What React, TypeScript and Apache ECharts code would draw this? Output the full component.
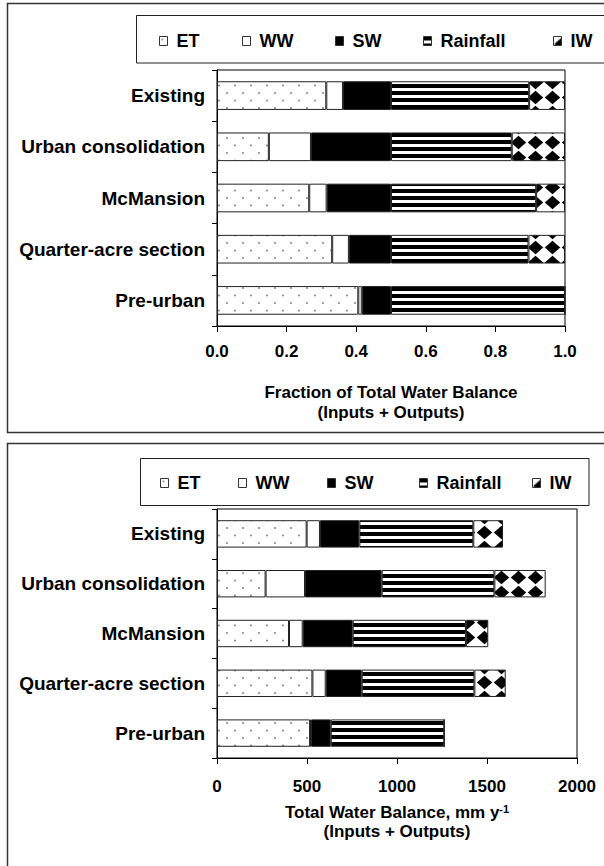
import React, { useEffect, useRef } from "react";
import * as echarts from "echarts";

const categories = ["Existing", "Urban consolidation", "McMansion", "Quarter-acre section", "Pre-urban"];
const seriesNames = ["ET", "WW", "SW", "Rainfall", "IW"];

// Fraction of total water balance (segment widths)
const fracET = [0.314, 0.149, 0.265, 0.331, 0.406];
const fracWW = [0.048, 0.121, 0.05, 0.048, 0.01];
const fracSW = [0.138, 0.23, 0.185, 0.121, 0.084];
const fracRain = [0.397, 0.347, 0.417, 0.395, 0.5];
const fracIW = [0.103, 0.153, 0.083, 0.105, 0];

// Total water balance, mm/y (segment widths)
const mmET = [498, 270, 400, 530, 517];
const mmWW = [74, 219, 76, 74, 5];
const mmSW = [219, 426, 278, 200, 110];
const mmRain = [633, 626, 629, 626, 631];
const mmIW = [165, 285, 124, 174, 0];

const fracTicks = { min: 0, max: 1, interval: 0.2 };
const mmTicks = { min: 0, max: 2000, interval: 500 };

const FONT = "'Liberation Sans', Arial, sans-serif";

function makePattern(w: number, h: number, draw: (ctx: CanvasRenderingContext2D) => void) {
  const c = document.createElement("canvas");
  c.width = w;
  c.height = h;
  const ctx = c.getContext("2d")!;
  draw(ctx);
  return { image: c.toDataURL(), repeat: "repeat", imageWidth: w, imageHeight: h } as any;
}

export default function App() {
  const ref = useRef<HTMLDivElement>(null);
  useEffect(() => {
    document.body.style.margin = "0";
    if (!ref.current) return;
    const chart = echarts.init(ref.current, undefined, { renderer: "svg" });

    const etPat = makePattern(16, 15, (ctx) => {
      ctx.fillStyle = "#fff";
      ctx.fillRect(0, 0, 16, 15);
      ctx.fillStyle = "#808080";
      ctx.beginPath();
      ctx.arc(3, 3, 1, 0, Math.PI * 2);
      ctx.fill();
      ctx.beginPath();
      ctx.arc(11, 10.5, 1, 0, Math.PI * 2);
      ctx.fill();
    });
    const rainPat = makePattern(7, 7, (ctx) => {
      ctx.fillStyle = "#000";
      ctx.fillRect(0, 0, 7, 7);
      ctx.fillStyle = "#fff";
      ctx.fillRect(0, 4, 7, 3);
    });
    const iwPat = makePattern(17, 15, (ctx) => {
      ctx.fillStyle = "#fff";
      ctx.fillRect(0, 0, 17, 15);
      ctx.fillStyle = "#000";
      ctx.beginPath();
      ctx.moveTo(8.5, 0.8);
      ctx.lineTo(16.2, 7.5);
      ctx.lineTo(8.5, 14.2);
      ctx.lineTo(0.8, 7.5);
      ctx.closePath();
      ctx.fill();
    });

    const colors: any[] = [etPat, "#ffffff", "#000000", rainPat, iwPat];
    const fracData = [fracET, fracWW, fracSW, fracRain, fracIW];
    const mmData = [mmET, mmWW, mmSW, mmRain, mmIW];

    const series: any[] = [];
    seriesNames.forEach((n, i) => {
      series.push({
        name: n,
        type: "bar",
        stack: "top",
        xAxisIndex: 0,
        yAxisIndex: 0,
        barWidth: "56%",
        data: fracData[i],
        itemStyle: { color: colors[i], borderColor: "#222", borderWidth: 1 },
      });
    });
    seriesNames.forEach((n, i) => {
      series.push({
        name: n,
        type: "bar",
        stack: "bottom",
        xAxisIndex: 1,
        yAxisIndex: 1,
        barWidth: "55%",
        data: mmData[i],
        itemStyle: { color: colors[i], borderColor: "#222", borderWidth: 1 },
      });
    });

    const topLegendX = [159, 242, 335, 423, 553];
    const botLegendX = [160, 238, 327, 419, 532];
    const legends: any[] = [];
    const mkLegend = (name: string, x: number, y: number) => ({
      data: [name],
      left: x,
      top: y - 9,
      padding: 0,
      itemWidth: 8,
      itemHeight: 9,
      selectedMode: false,
      icon: "rect",
      itemStyle: { borderColor: "#333", borderWidth: 1 },
      textStyle: { fontFamily: FONT, fontSize: 18, fontWeight: "bold", color: "#000", padding: [0, 0, 0, 4] },
    });
    seriesNames.forEach((n, i) => legends.push(mkLegend(n, topLegendX[i], 41)));
    seriesNames.forEach((n, i) => legends.push(mkLegend(n, botLegendX[i], 483)));

    const axisLabelStyle = { fontFamily: FONT, fontSize: 17, fontWeight: "bold", color: "#000" };

    const option: any = {
      animation: false,
      backgroundColor: "#fff",
      legend: legends,
      graphic: [
        { type: "rect", shape: { x: 7.5, y: 3.5, width: 620, height: 429 }, style: { fill: "none", stroke: "#333", lineWidth: 1.5 }, z: -1 },
        { type: "rect", shape: { x: 7.5, y: 443.5, width: 620, height: 440 }, style: { fill: "none", stroke: "#333", lineWidth: 1.5 }, z: -1 },
        { type: "rect", shape: { x: 136.5, y: 15.5, width: 500, height: 47.5 }, style: { fill: "none", stroke: "#222", lineWidth: 1 }, z: -1 },
        { type: "rect", shape: { x: 140.5, y: 458.5, width: 448.5, height: 47 }, style: { fill: "none", stroke: "#222", lineWidth: 1 }, z: -1 },
      ],
      grid: [
        { left: 217, top: 70, width: 348, height: 256, show: true, borderColor: "#000", borderWidth: 1, backgroundColor: "transparent" },
        { left: 217, top: 509, width: 360, height: 249, show: true, borderColor: "#000", borderWidth: 1, backgroundColor: "transparent" },
      ],
      xAxis: [
        {
          type: "value",
          gridIndex: 0,
          min: fracTicks.min,
          max: fracTicks.max,
          interval: fracTicks.interval,
          axisLine: { show: true, lineStyle: { color: "#000", width: 1 } },
          axisTick: { show: true, length: 6, lineStyle: { color: "#000" } },
          splitLine: { show: false },
          axisLabel: { ...axisLabelStyle, margin: 17, formatter: (v: number) => v.toFixed(1) },
          name: "Fraction of Total Water Balance\n(Inputs + Outputs)",
          nameLocation: "middle",
          nameGap: 56,
          nameTextStyle: { ...axisLabelStyle, lineHeight: 20 },
        },
        {
          type: "value",
          gridIndex: 1,
          min: mmTicks.min,
          max: mmTicks.max,
          interval: mmTicks.interval,
          axisLine: { show: true, lineStyle: { color: "#000", width: 1 } },
          axisTick: { show: true, length: 6, lineStyle: { color: "#000" } },
          splitLine: { show: false },
          axisLabel: { ...axisLabelStyle, margin: 20, formatter: (v: number) => String(v) },
          name: "{t|Total Water Balance, mm y}{s|-1}\n{t|(Inputs + Outputs)}",
          nameLocation: "middle",
          nameGap: 45,
          nameTextStyle: {
            ...axisLabelStyle,
            lineHeight: 19,
            rich: {
              t: { fontFamily: FONT, fontSize: 17, fontWeight: "bold", color: "#000", lineHeight: 19 },
              s: { fontFamily: FONT, fontSize: 11, fontWeight: "bold", color: "#000", lineHeight: 19, verticalAlign: "top" },
            },
          },
        },
      ],
      yAxis: [0, 1].map((g) => ({
        type: "category",
        gridIndex: g,
        inverse: true,
        data: categories,
        axisLine: { show: true, lineStyle: { color: "#000", width: 1 } },
        axisTick: { show: true, length: 5, lineStyle: { color: "#000" } },
        splitLine: { show: false },
        axisLabel: { ...axisLabelStyle, fontSize: 19, margin: 12 },
      })),
      series,
    };
    chart.setOption(option);
    return () => chart.dispose();
  }, []);
  return <div ref={ref} style={{ width: 604, height: 866 }} />;
}
